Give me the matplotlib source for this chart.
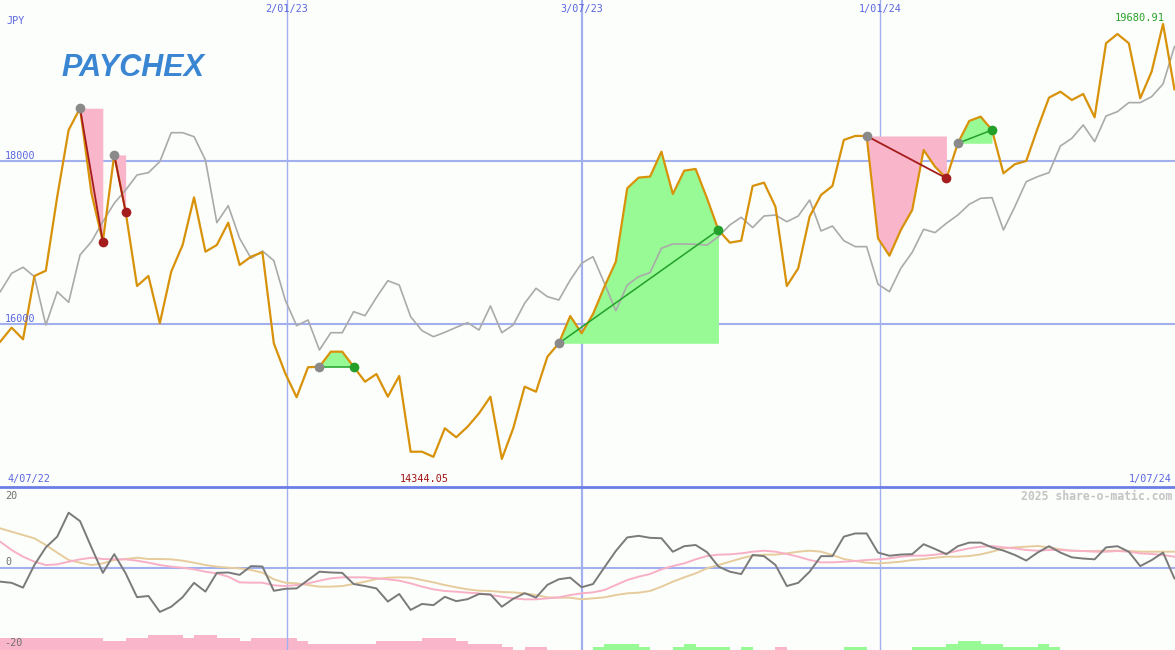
"""Paychex (JPY) weekly chart in the share-o-matic style: price vs relative line,
pattern shading, and a momentum panel underneath."""
import numpy as np
import matplotlib
matplotlib.use("Agg")
import matplotlib.pyplot as plt
from matplotlib.lines import Line2D

# weekly closes, 4/07/22 .. 1/07/24
price = [15783, 15955, 15812, 16589, 16654, 17562, 18380, 18647, 17604, 17010,
         18074, 17378, 16466, 16589, 16009, 16642, 16969, 17554, 16887, 16969,
         17243, 16724, 16826, 16880, 15763, 15395, 15101, 15469, 15476, 15660,
         15660, 15476, 15292, 15386, 15108, 15362, 14433, 14433, 14370, 14720,
         14610, 14740, 14904, 15108, 14344.05, 14720, 15231, 15169, 15599, 15763,
         16098, 15886, 16123, 16458, 16764, 17665, 17796, 17808, 18114, 17595,
         17881, 17902, 17542, 17153, 16998, 17022, 17693, 17734, 17439, 16466,
         16683, 17317, 17583, 17693, 18258, 18307, 18307, 17051, 16838, 17153,
         17399, 18135, 17930, 17788, 18217, 18491, 18544, 18380, 17849, 17960,
         18000, 18401, 18777, 18850, 18748, 18822, 18536, 19444, 19558, 19444,
         18769, 19096, 19680.91, 18880]

# grey relative-strength line, same scale
relative = [16396, 16622, 16696, 16581, 15988, 16396, 16266, 16847, 17010, 17255,
            17481, 17644, 17828, 17857, 17992, 18347, 18347, 18298, 18012, 17243,
            17452, 17051, 16806, 16896, 16777, 16294, 15979, 16049, 15681, 15893,
            15893, 16151, 16102, 16325, 16531, 16478, 16090, 15918, 15844, 15898,
            15959, 16016, 15926, 16221, 15893, 15988, 16254, 16438, 16335, 16294,
            16540, 16745, 16826, 16499, 16163, 16478, 16581, 16630, 16929, 16982,
            16982, 16978, 16969, 17071, 17215, 17309, 17183, 17325, 17337, 17255,
            17325, 17521, 17141, 17202, 17022, 16949, 16949, 16487, 16396, 16683,
            16880, 17162, 17121, 17236, 17337, 17468, 17542, 17550, 17153, 17439,
            17746, 17808, 17857, 18184, 18278, 18442, 18237, 18552, 18605, 18716,
            18716, 18789, 18945, 19402]

# lower panel
momentum = [-3.5, -3.8, -5.0, 0.7, 5.1, 7.8, 13.8, 11.7, 5.1, -1.3,
            3.4, -1.4, -7.4, -7.1, -11.1, -9.8, -7.4, -3.8, -6.0, -1.3,
            -1.2, -1.8, 0.4, 0.3, -5.8, -5.3, -5.2, -3.1, -1.0, -1.2,
            -1.3, -4.1, -4.6, -5.2, -8.5, -6.6, -10.6, -9.1, -9.4, -7.3,
            -8.4, -7.9, -6.6, -6.7, -9.8, -7.8, -6.4, -7.5, -4.3, -2.9,
            -2.5, -4.9, -4.1, 0.1, 4.2, 7.6, 8.0, 7.5, 7.4, 4.0,
            5.4, 5.7, 3.9, 0.3, -1.0, -1.6, 3.2, 2.9, 0.7, -4.6,
            -3.8, -1.0, 2.9, 2.9, 7.8, 8.6, 8.6, 3.8, 3.0, 3.3,
            3.4, 5.9, 4.7, 3.4, 5.4, 6.3, 6.3, 5.1, 4.3, 3.2,
            1.8, 3.8, 5.4, 3.8, 2.6, 2.3, 2.1, 5.1, 5.4, 4.0,
            0.4, 1.9, 3.8, -2.7]
signal_fast = [6.53, 4.44, 2.77, 1.51, 0.67, 0.84, 1.51, 2.10, 2.51, 2.18,
               2.10, 2.10, 1.76, 1.26, 0.67, 0.26, 0.0, -0.41, -1.0, -1.42,
               -2.25, -3.68, -3.76, -3.76, -4.43, -4.6, -4.35, -3.93, -3.26, -2.67,
               -2.42, -2.42, -2.42, -2.67, -2.92, -3.26, -3.93, -4.76, -5.43, -5.85,
               -6.02, -6.27, -6.44, -6.86, -7.28, -7.69, -7.94, -7.94, -7.69, -7.44,
               -6.86, -6.44, -6.19, -5.6, -4.35, -3.09, -2.25, -1.58, -0.41, 0.42,
               1.09, 2.10, 2.93, 3.27, 3.35, 3.60, 4.02, 4.27, 4.02, 3.44,
               2.77, 1.93, 1.34, 1.34, 1.51, 1.68, 1.93, 2.10, 2.35, 2.77,
               3.02, 3.02, 3.27, 3.6, 4.27, 4.86, 5.28, 5.44, 5.11, 4.86,
               4.44, 4.27, 4.44, 4.44, 4.27, 4.19, 4.02, 4.02, 4.19, 4.02,
               3.6, 3.44, 3.18, 2.77]
signal_slow = [9.88, 9.04, 8.2, 7.37, 5.69, 3.77, 1.93, 1.26, 0.67, 1.09,
               1.93, 2.18, 2.51, 2.18, 2.18, 2.10, 1.76, 1.26, 0.67, 0.26,
               0.0, -0.16, -0.58, -1.25, -2.92, -3.76, -3.93, -4.35, -4.76, -4.76,
               -4.6, -4.09, -3.51, -2.84, -2.5, -2.42, -2.5, -3.09, -3.68, -4.35,
               -4.93, -5.43, -5.77, -5.85, -6.1, -6.19, -6.44, -6.86, -7.44, -7.53,
               -7.53, -7.94, -7.69, -7.44, -6.86, -6.44, -6.27, -5.85, -4.76, -3.51,
               -2.42, -1.42, -0.16, 0.67, 1.51, 2.35, 3.02, 3.27, 3.27, 3.6,
               4.02, 4.27, 4.02, 3.18, 2.18, 1.68, 1.26, 1.09, 1.26, 1.51,
               1.93, 2.18, 2.51, 2.77, 2.77, 2.93, 3.35, 4.02, 4.86, 5.11,
               5.28, 5.44, 5.11, 4.61, 4.27, 4.19, 4.19, 4.27, 4.27, 4.19,
               4.02, 4.02, 4.02, 4.02]
# trend histogram at the foot of the lower panel (negative = pink, positive = green)
trend_bars = [-4, -4, -4, -4, -4, -4, -4, -4, -4, -3,
              -3, -4, -4, -5, -5, -5, -4, -5, -5, -4,
              -4, -3, -4, -4, -4, -4, -3, -2, -2, -2,
              -2, -2, -2, -3, -3, -3, -3, -4, -4, -4,
              -3, -2, -2, -2, -1, 0, -1, -1, 0, 0,
              0, 0, 1, 2, 2, 2, 1, 0, 0, 1,
              2, 1, 1, 1, 0, 1, 0, 0, -1, 0,
              0, 0, 0, 0, 1, 1, 0, 0, 0, 0,
              1, 1, 1, 2, 3, 3, 2, 2, 1, 1,
              1, 2, 1, 0, 0, 0, 0, 0, 0, 0,
              0, 0, 0, 0]

# (start week, end week, direction) of the highlighted swings
patterns = [(7, 9, "down"), (10, 11, "down"), (28, 31, "up"),
            (49, 63, "up"), (76, 83, "down"), (84, 87, "up")]

date_ticks = [25.16, 51.04, 77.18]
date_labels = ["2/01/23", "3/07/23", "1/01/24"]
price_grid = [18000, 16000]

BG = "#fcfefb"
GRID = "#a3b0f0"
BLUE_TXT = "#5a66e0"
W, H = 1175, 650
SPLIT = 163 / H
XLIM = (-0.02, 103.05)
MONO = "DejaVu Sans Mono"

x = np.arange(len(price))
p = np.asarray(price, dtype=float)

fig = plt.figure(figsize=(W / 100, H / 100), dpi=100, facecolor=BG)
axb = fig.add_axes([0, 0, 1, SPLIT])
axl = fig.add_axes([0, 0, 1, SPLIT])
ax = fig.add_axes([0, SPLIT, 1, 1 - SPLIT])
for a in (axb, axl, ax):
    a.set_xlim(*XLIM)
    a.set_axis_off()
axb.set_facecolor(BG)
axl.patch.set_visible(False)
ax.patch.set_visible(False)

# ---- price panel
ax.set_ylim(14000, 19975)
for lvl in price_grid:
    ax.axhline(lvl, color=GRID, lw=1.5, zorder=0)
for t, lw in zip(date_ticks, [1.0, 1.6, 1.0]):
    for a in (ax, axl):
        ln = a.axvline(t, color=GRID, lw=lw, zorder=0)
        ln.set_snap(True)

for a, b, kind in patterns:
    xs, ys, base = x[a:b + 1], p[a:b + 1], p[a]
    if kind == "up":
        ax.fill_between(xs, base, ys, where=ys >= base, interpolate=True,
                        color="#98fa94", lw=0, zorder=1)
    else:
        ax.fill_between(xs, ys, base, where=ys <= base, interpolate=True,
                        color="#f9b6ca", lw=0, zorder=1)

ax.plot(x, relative, color="#aaaaaa", lw=1.2, zorder=2)
ax.plot(x, p, color="#d8920a", lw=1.6, zorder=3)

for a, b, kind in patterns:
    col = "#22a02a" if kind == "up" else "#a51c1c"
    ax.plot([x[a], x[b]], [p[a], p[b]], color=col,
            lw=1.1 if kind == "up" else 1.3, zorder=4)
    ax.plot(x[a], p[a], "o", color="#8a8a8a", ms=7, mew=0, zorder=5)
    ax.plot(x[b], p[b], "o", color=col, ms=7, mew=0, zorder=5)

imax = int(np.argmax(p))
ax.annotate(f"{p[imax]:.2f}", (x[imax], p[imax]), xytext=(1, 1),
            textcoords="offset points", ha="right", va="bottom",
            color="#28a028", fontsize=7.5, family=MONO)

# ---- lower panel
axl.set_ylim(-20.66, 20.26)
axl.axhline(0, color=GRID, lw=1.5, zorder=0)
axl.plot(x, signal_slow, color="#e6cc9c", lw=1.4, zorder=2)
axl.plot(x, signal_fast, color="#f8b0c6", lw=1.4, zorder=2)
axl.plot(x, momentum, color="#7a7a7a", lw=1.4, zorder=3)

bars = np.asarray(trend_bars)
axb.set_ylim(0, 163 / 3.1)
axb.bar(x, np.abs(bars), width=1.0, align="edge", lw=0,
        color=np.where(bars < 0, "#f9b6ca", "#98fa94"))

# separator between the panels
fig.add_artist(Line2D([0, 1], [SPLIT, SPLIT], transform=fig.transFigure,
                      color="#6c7ee6", lw=2.0))


def ftext(px, py, s, **kw):
    kw.setdefault("family", MONO)
    kw.setdefault("fontsize", 7.3)
    kw.setdefault("va", "center")
    fig.text(px / W, 1 - py / H, s, **kw)


ftext(6, 21, "JPY", color=BLUE_TXT)
for t, lab in zip(date_ticks, date_labels):
    ftext((0.2 + 11.4 * t), 9, lab, color=BLUE_TXT, ha="center")
ftext(5, 156, "18000", color=BLUE_TXT)
ftext(5, 319, "16000", color=BLUE_TXT)
ftext(7, 479, "4/07/22", color=BLUE_TXT)
ftext(424, 479, f"{p.min():.2f}", color="#a01414", ha="center")
ftext(1172, 479, "1/07/24", color=BLUE_TXT, ha="right")
ftext(1172, 496, "2025 share-o-matic.com", color="#c4c4c4", ha="right",
      fontsize=8.3, weight="bold")
ftext(5, 496, "20", color="#707070")
ftext(5, 562, "0", color="#707070")
ftext(4, 643, "-20", color="#707070")

ftext(61, 68, "PAYCHEX", family="Liberation Sans", fontsize=22,
      weight="bold", style="italic", color="#3a86d2")

fig.savefig("out.png", dpi=100, facecolor=BG)
